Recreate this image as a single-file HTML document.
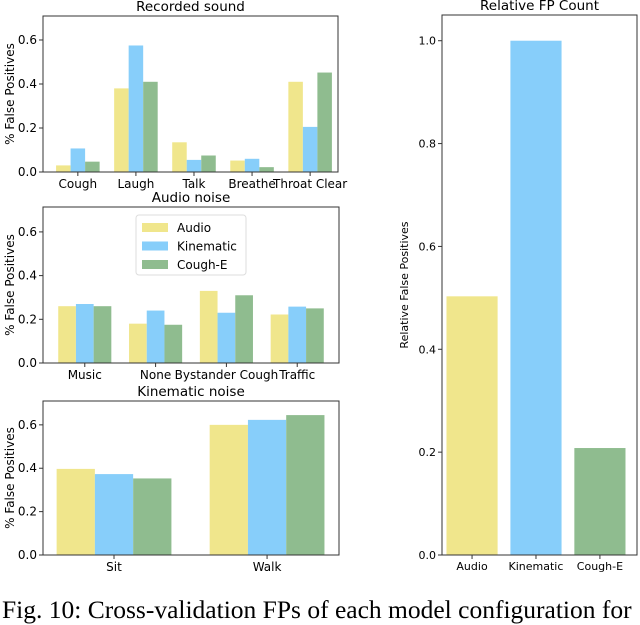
<!DOCTYPE html>
<html><head><meta charset="utf-8">
<style>
body{margin:0;background:#fff;width:640px;height:605px;overflow:hidden;position:relative}
svg{position:absolute;left:0;top:0;font-family:"DejaVu Sans","Liberation Sans",sans-serif}
#cap{position:absolute;left:2px;top:595px;font-family:"Liberation Serif",serif;font-size:25.5px;line-height:30px;white-space:nowrap;color:#000}
</style></head>
<body>
<svg id="chart" width="640" height="605"></svg>
<div id="cap">Fig. 10: Cross-validation FPs of each model configuration for</div>
<script>
const seriesNames=["Audio","Kinematic","Cough-E"];
const colors=["#f0e68c","#87cefa","#8fbc8f"];
const recCats=["Cough","Laugh","Talk","Breathe","Throat Clear"];
const recAudio=[0.03,0.38,0.135,0.052,0.41];
const recKin=[0.107,0.575,0.055,0.06,0.205];
const recCough=[0.047,0.41,0.075,0.022,0.452];
const audCats=["Music","None","Bystander Cough","Traffic"];
const audAudio=[0.26,0.18,0.33,0.222];
const audKin=[0.27,0.24,0.23,0.258];
const audCough=[0.26,0.175,0.31,0.25];
const kinCats=["Sit","Walk"];
const kinAudio=[0.397,0.60];
const kinKin=[0.373,0.623];
const kinCough=[0.353,0.645];
const relCats=["Audio","Kinematic","Cough-E"];
const relVals=[0.503,1.0,0.208];
const smallTicks=["0.0","0.2","0.4","0.6"];
const bigTicks=["0.0","0.2","0.4","0.6","0.8","1.0"];

const svg=document.getElementById('chart');
const NS="http://www.w3.org/2000/svg";
function mk(tag,attrs,parent){const e=document.createElementNS(NS,tag);for(const k in attrs)e.setAttribute(k,attrs[k]);(parent||svg).appendChild(e);return e;}

function panel(o){
  const g=mk('g',{});
  
  
  const xs=v=>o.x0+(v-o.xmin)/(o.xmax-o.xmin)*(o.x1-o.x0);
  const ys=v=>o.y1-(v-0)/(o.ymax)*(o.y1-o.y0);
  o.series.forEach((vals,si)=>{
    vals.forEach((v,ci)=>{
      const off=o.series.length===1?0:(si-1)*o.bw;
      const cx=xs(ci+off);
      const w=xs(o.bw)-xs(0);
      const r=mk('rect',{x:cx-w/2,y:ys(v),width:w,height:ys(0)-ys(v),fill:o.colorFn(si,ci)},g);
      
      
    });
  });
  mk('rect',{x:o.x0,y:o.y0,width:o.x1-o.x0,height:o.y1-o.y0,fill:'none',stroke:'#333',"stroke-width":1},g);
  o.ticks.forEach(t=>{
    const y=ys(parseFloat(t));
    mk('line',{x1:o.x0-4,x2:o.x0,y1:y,y2:y,stroke:'#333'},g);
    const tx=mk('text',{x:o.x0-6,y:y+4,"text-anchor":"end","font-size":o.fs},g);
    tx.textContent=t;
    
    
  });
  o.cats.forEach((c,i)=>{
    const x=xs(i);
    mk('line',{x1:x,x2:x,y1:o.y1,y2:o.y1+4,stroke:'#333'},g);
    const tx=mk('text',{x:x,y:o.y1+o.fs+4,"text-anchor":"middle","font-size":o.fs},g);
    tx.textContent=c;
    
    
  });
  const ti=mk('text',{x:(o.x0+o.x1)/2,y:o.y0-5,"text-anchor":"middle","font-size":13.5},g);
  ti.textContent=o.title;
  
  
  const cy=(o.y0+o.y1)/2;
  const yl=mk('text',{x:o.ylx,y:cy,"text-anchor":"middle","font-size":o.ylfs,transform:`rotate(-90 ${o.ylx} ${cy})`},g);
  yl.textContent=o.ylabel;
  
  
}
const grp=si=>colors[si];
panel({name:'recorded-sound-panel',title:'Recorded sound',cats:recCats,series:[recAudio,recKin,recCough],x0:43,x1:338,y0:16,y1:172,xmin:-0.6,xmax:4.48,ymax:0.709,bw:0.25,ticks:smallTicks,fs:12,ylx:14,ylabel:'% False Positives',ylfs:12,colorFn:grp});
panel({name:'audio-noise-panel',title:'Audio noise',cats:audCats,series:[audAudio,audKin,audCough],x0:43,x1:339,y0:207,y1:363,xmin:-0.59,xmax:3.59,ymax:0.714,bw:0.25,ticks:smallTicks,fs:12,ylx:14,ylabel:'% False Positives',ylfs:12,colorFn:grp});
panel({name:'kinematic-noise-panel',title:'Kinematic noise',cats:kinCats,series:[kinAudio,kinKin,kinCough],x0:43,x1:339,y0:401,y1:555,xmin:-0.464,xmax:1.47,ymax:0.71,bw:0.25,ticks:smallTicks,fs:12,ylx:14,ylabel:'% False Positives',ylfs:12,colorFn:grp});
panel({name:'relative-fp-panel',title:'Relative FP Count',cats:relCats,series:[relVals],x0:442,x1:637,y0:15,y1:555,xmin:-0.47,xmax:2.58,ymax:1.05,bw:0.8,ticks:bigTicks,fs:11,ylx:408,ylabel:'Relative False Positives',ylfs:11,colorFn:(si,ci)=>colors[ci]});

// legend
const lg=mk('g',{});


mk('rect',{x:136,y:215,width:110,height:60,rx:3,fill:'#fff',stroke:'#ddd'},lg);
seriesNames.forEach((n,i)=>{
  const y=223+i*18.5;
  mk('rect',{x:142,y:y,width:26,height:9,fill:colors[i]},lg);
  const t=mk('text',{x:177,y:y+9,"font-size":12},lg);
  t.textContent=n;
  
  
});
</script>
</body></html>
